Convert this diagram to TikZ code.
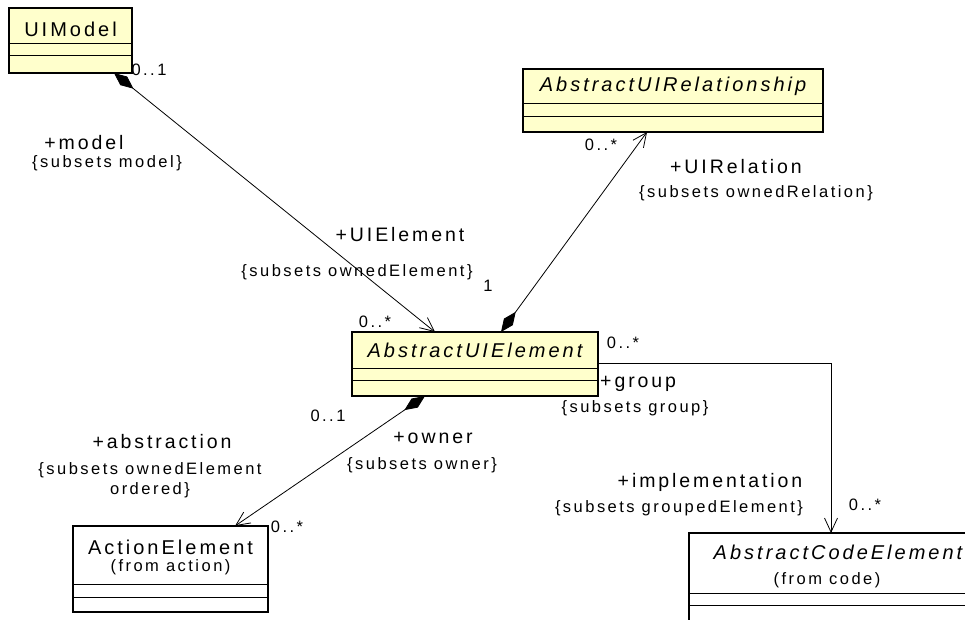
\documentclass[tikz,border=0pt]{standalone}
\usepackage{fontspec}
\setmainfont{Liberation Sans}[LetterSpace=15]
\usetikzlibrary{arrows.meta,calc}
\definecolor{uiyellow}{HTML}{FFFFCC}
\begin{document}
\begin{tikzpicture}[x=1pt,y=-1pt,
 classbox/.style={draw=black, line width=1.1pt, anchor=north west, inner sep=0pt, outer sep=0pt},
 divider/.style={draw=black, line width=0.9pt},
 conn/.style={draw=black, line width=0.8pt},
 comp/.style={{Diamond[length=25pt,width=11pt]}-{Straight Barb[length=14pt,width=13pt]}},
 nav/.style={-{Straight Barb[length=14pt,width=13pt]}},
 ctitle/.style={font=\fontsize{20}{24}\selectfont, inner sep=0pt},
 atitle/.style={font=\fontsize{20}{24}\selectfont\itshape, inner sep=0pt},
 role/.style={font=\fontsize{19.5}{23}\selectfont, inner sep=0pt},
 small/.style={font=\fontsize{16.5}{19.5}\selectfont, inner sep=0pt},
 mult/.style={font=\fontsize{16.5}{19.5}\selectfont, inner sep=0pt},
]
\useasboundingbox (0,0) rectangle (965,620);
\clip (0,0) rectangle (965,620);

% ---------- classes ----------
\node[classbox, fill=uiyellow, minimum width=123pt, minimum height=65pt] (uimodel) at (9,8) {};
\draw[divider] ($(uimodel.north west)+(0,35)$) -- ($(uimodel.north east)+(0,35)$);
\draw[divider] ($(uimodel.north west)+(0,47)$) -- ($(uimodel.north east)+(0,47)$);
\node[ctitle] (uimodelname) at ($(uimodel.north)+(0,21)$) {UIModel};

\node[classbox, fill=uiyellow, minimum width=300pt, minimum height=63pt] (uirel) at (523,69) {};
\draw[divider] ($(uirel.north west)+(0,34)$) -- ($(uirel.north east)+(0,34)$);
\draw[divider] ($(uirel.north west)+(0,47)$) -- ($(uirel.north east)+(0,47)$);
\node[atitle] (uirelname) at ($(uirel.north)+(0,17)$) {AbstractUIRelationship};

\node[classbox, fill=uiyellow, minimum width=246pt, minimum height=64pt] (uielem) at (352,332) {};
\draw[divider] ($(uielem.north west)+(0,36)$) -- ($(uielem.north east)+(0,36)$);
\draw[divider] ($(uielem.north west)+(0,48)$) -- ($(uielem.north east)+(0,48)$);
\node[atitle] (uielemname) at ($(uielem.north)+(0,18)$) {AbstractUIElement};

\node[classbox, fill=white, minimum width=195pt, minimum height=86pt] (action) at (73,526) {};
\draw[divider] ($(action.north west)+(0,58)$) -- ($(action.north east)+(0,58)$);
\draw[divider] ($(action.north west)+(0,71)$) -- ($(action.north east)+(0,71)$);
\node[ctitle] (actionname) at ($(action.north)+(0,21)$) {ActionElement};
\node[small] (actionfrom) at ($(action.north)+(0,41)$) {(from action)};

\node[classbox, fill=white, minimum width=300pt, minimum height=110pt] (code) at (689,533) {};
\draw[divider] ($(code.north west)+(0,60)$) -- ($(code.north east)+(0,60)$);
\draw[divider] ($(code.north west)+(0,72)$) -- ($(code.north east)+(0,72)$);
\node[atitle] (codename) at ($(code.north west)+(149,19)$) {AbstractCodeElement};
\node[small] (codefrom) at ($(code.north west)+(138,47)$) {(from code)};

% ---------- connectors ----------
\coordinate (a1) at ($(uimodel.south west)+(105,0)$);
\coordinate (a2) at ($(uielem.north west)+(83,0)$);
\draw[conn, comp] (a1) -- (a2);

\coordinate (b1) at ($(uielem.north west)+(149,0)$);
\coordinate (b2) at ($(uirel.south west)+(124,0)$);
\draw[conn, comp] (b1) -- (b2);

\coordinate (c1) at ($(uielem.south west)+(73,0)$);
\coordinate (c2) at ($(action.north west)+(162,0)$);
\draw[conn, comp] (c1) -- (c2);

\coordinate (d1) at ($(uielem.north east)+(0,31)$);
\coordinate (d2) at ($(code.north west)+(142,0)$);
\draw[conn, nav] (d1) -| (d2);

% ---------- labels ----------
\node[mult] (m1) at (149,70) {0..1};
\node[role] (r1) at (84,143) {+model};
\node[small] (s1) at (107,163) {\{subsets model\}};
\node[role] (r2) at (400,235) {+UIElement};
\node[small] (s2) at (357,272) {\{subsets ownedElement\}};
\node[mult] (m2) at (488,286) {1};
\node[mult] (m3) at (375,322) {0..*};

\node[mult] (m4) at (601,145) {0..*};
\node[role] (r3) at (736,167) {+UIRelation};
\node[small] (s3) at (756,193) {\{subsets ownedRelation\}};

\node[mult] (m5) at (623,343) {0..*};
\node[role, anchor=west] (r4) at (600,384) {+group};
\node[small] (s4) at (635,408) {\{subsets group\}};

\node[mult] (m6) at (328,416) {0..1};
\node[role] (r5) at (433,438) {+owner};
\node[small] (s5) at (422,465) {\{subsets owner\}};

\node[role] (r6) at (162,442) {+abstraction};
\node[small, align=center] (s6) at (150,480) {\{subsets ownedElement\\ordered\}};
\node[mult] (m7) at (287,527) {0..*};

\node[role] (r7) at (710,482) {+implementation};
\node[small] (s7) at (679,508) {\{subsets groupedElement\}};
\node[mult] (m8) at (865,505) {0..*};
\end{tikzpicture}
\end{document}
